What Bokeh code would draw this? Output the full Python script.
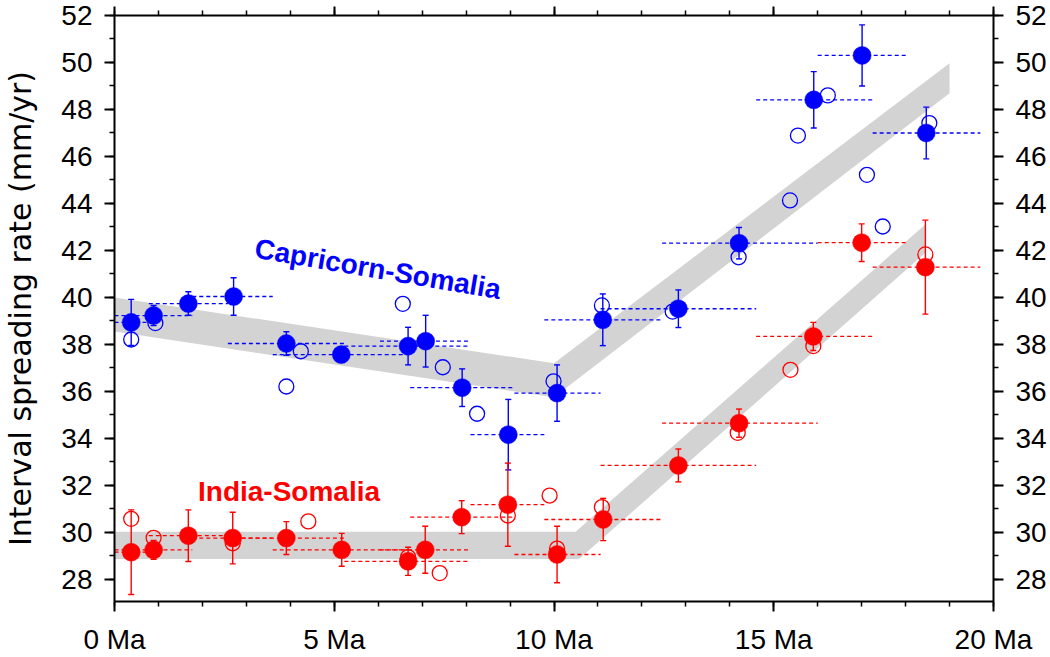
from bokeh.plotting import figure
from bokeh.models import (Range1d, LinearAxis, FixedTicker, PrintfTickFormatter,
                          ColumnDataSource)
from bokeh.core.properties import value
from bokeh.embed import file_html
from bokeh.resources import INLINE

# ---------------- data ----------------
# magnetic-anomaly intervals (Ma) used for both plate pairs
int_start = [0, 0, 0.78, 1.77, 2.58, 3.6, 5.23, 6.04, 6.73, 8.1, 9.1, 9.78, 11.06, 12.46, 14.6, 16.0, 17.25]
int_end = [0.78, 1.77, 2.58, 3.6, 5.23, 6.73, 8.1, 8.1, 9.1, 9.78, 11.06, 12.46, 14.6, 16.0, 17.25, 18.05, 19.7]

# Capricorn-Somalia: interval rates (filled) with 1-sigma errors
cs_age = [0.38, 0.89, 1.68, 2.71, 3.91, 5.16, 6.68, 7.08, 7.91, 8.96, 10.07, 11.11, 12.83, 14.21, 15.91, 17.01, 18.47]
cs_rate = [38.94, 39.23, 39.74, 40.04, 38.04, 37.57, 37.93, 38.14, 36.16, 34.16, 35.93, 39.05, 39.52, 42.31, 48.41, 50.30, 47.00]
cs_err = [0.98, 0.43, 0.50, 0.80, 0.50, 0.25, 0.80, 1.10, 0.80, 1.50, 1.20, 1.10, 0.80, 0.67, 1.20, 1.30, 1.10]
# Capricorn-Somalia: open circles
cs_open_age = [0.38, 0.93, 3.91, 4.24, 6.56, 7.47, 8.25, 9.99, 11.09, 12.70, 14.20, 15.37, 15.55, 16.23, 17.12, 17.48, 18.54]
cs_open_rate = [38.21, 38.91, 36.21, 37.71, 39.73, 37.03, 35.05, 36.43, 39.66, 39.40, 41.71, 44.13, 46.89, 48.60, 45.22, 43.02, 47.42]

# India-Somalia: interval rates (filled) with 1-sigma errors
is_age = [0.38, 0.89, 1.68, 2.69, 3.91, 5.17, 6.68, 7.07, 7.90, 8.95, 10.07, 11.12, 12.83, 14.21, 15.90, 17.00, 18.45]
is_rate = [29.16, 29.26, 29.86, 29.76, 29.76, 29.26, 28.77, 29.26, 30.65, 31.18, 29.06, 30.55, 32.85, 34.65, 38.34, 42.33, 41.29]
is_err = [1.80, 0.40, 1.10, 1.10, 0.70, 0.70, 0.60, 1.00, 0.70, 1.77, 1.20, 0.90, 0.70, 0.60, 0.60, 0.80, 2.00]
# India-Somalia: open circles
is_open_age = [0.38, 0.89, 2.69, 4.41, 6.68, 7.40, 8.95, 9.90, 10.07, 11.09, 14.18, 15.38, 15.90, 18.45]
is_open_rate = [30.58, 29.77, 29.54, 30.47, 28.95, 28.27, 30.72, 31.57, 29.31, 31.08, 34.24, 36.92, 37.93, 41.83]

# model bands (polygon outlines, age / rate)
cs_band_age = [0, 10.0, 19.0, 19.0, 10.0, 0]
cs_band_rate = [40.0, 37.2, 49.97, 48.69, 35.75, 38.55]
is_band_age = [0, 10.49, 18.45, 18.45, 10.57, 0]
is_band_rate = [30.03, 30.03, 43.11, 41.90, 28.87, 28.87]

# annotations
label_text = ["Capricorn-Somalia", "India-Somalia"]
label_age = [3.2, 1.9]
label_rate = [42.1, 31.75]

x_ticks = [0, 5, 10, 15, 20]
y_ticks = list(range(28, 53, 2))

# ---------------- styling ----------------
BLUE = "#0000ff"
RED = "#ff0000"
GREY = "#d3d3d3"
FONT = "Liberation Sans"

p = figure(frame_width=879, frame_height=586, output_backend="svg",
           toolbar_location=None, x_range=Range1d(0, 20), y_range=Range1d(27.06, 52),
           min_border_left=113, min_border_right=58, min_border_top=15,
           min_border_bottom=56, background_fill_color="white",
           border_fill_color="white")
p.xgrid.visible = False
p.ygrid.visible = False
p.outline_line_color = None

p.patch(cs_band_age, cs_band_rate, fill_color=GREY, line_color=None)
p.patch(is_band_age, is_band_rate, fill_color=GREY, line_color=None)


def series(age, rate, err, oage, orate, color):
    src = ColumnDataSource(dict(
        x=age, y=rate,
        lo=[r - e for r, e in zip(rate, err)],
        hi=[r + e for r, e in zip(rate, err)],
        t0=int_start, t1=int_end))
    p.segment(x0="t0", y0="y", x1="t1", y1="y", source=src, line_color=color,
              line_width=1.3, line_dash="4 3")
    p.segment(x0="x", y0="lo", x1="x", y1="hi", source=src, line_color=color,
              line_width=1.4)
    p.scatter(x="x", y="hi", marker="dash", size=6, line_color=color,
              line_width=1.4, source=src)
    p.scatter(x="x", y="lo", marker="dash", size=6, line_color=color,
              line_width=1.4, source=src)
    p.scatter(oage, orate, marker="circle", size=15, fill_color=None,
              line_color=color, line_width=1.3)
    p.scatter(x="x", y="y", marker="circle", size=18, fill_color=color,
              line_color=color, line_width=0.5, source=src)


series(cs_age, cs_rate, cs_err, cs_open_age, cs_open_rate, BLUE)
series(is_age, is_rate, is_err, is_open_age, is_open_rate, RED)

p.text(x=[label_age[0]], y=[label_rate[0]], text=[label_text[0]], angle=-0.168,
       text_font=value(FONT), text_font_style="bold", text_font_size="28px",
       text_color=BLUE, text_align="left", text_baseline="alphabetic")
p.text(x=[label_age[1]], y=[label_rate[1]], text=[label_text[1]], angle=0,
       text_font=value(FONT), text_font_style="bold", text_font_size="28px",
       text_color=RED, text_align="left", text_baseline="alphabetic")


def style_axis(ax, tick_len=10, standoff=12):
    ax.axis_line_color = "black"
    ax.axis_line_width = 2
    ax.major_tick_line_color = "black"
    ax.major_tick_line_width = 2
    ax.minor_tick_line_color = "black"
    ax.minor_tick_line_width = 1.5
    ax.major_tick_in = 0
    ax.major_tick_out = tick_len
    ax.minor_tick_in = 0
    ax.minor_tick_out = 5
    ax.major_label_text_font = FONT
    ax.major_label_text_font_size = "28px"
    ax.major_label_text_color = "black"
    ax.major_label_standoff = standoff


xt = FixedTicker(ticks=x_ticks, minor_ticks=list(range(0, 21)))
yt = FixedTicker(ticks=y_ticks, minor_ticks=list(range(27, 53)))

bx = p.xaxis[0]
bx.ticker = xt
bx.formatter = PrintfTickFormatter(format="%d Ma")
style_axis(bx, standoff=12)

ly = p.yaxis[0]
ly.ticker = yt
style_axis(ly)
ly.axis_label = "Interval spreading rate (mm/yr)"
ly.axis_label_text_font = "DejaVu Sans"
ly.axis_label_text_font_size = "30px"
ly.axis_label_text_font_style = "normal"
ly.axis_label_text_color = "black"
ly.axis_label_standoff = 20

ry = LinearAxis(ticker=yt)
style_axis(ry)
p.add_layout(ry, "right")

tx = LinearAxis(ticker=xt, major_label_overrides={t: "" for t in x_ticks})
style_axis(tx, tick_len=9, standoff=0)
tx.major_label_text_font_size = "1px"
p.add_layout(tx, "above")

open("out.html", "w").write(file_html(p, INLINE))
